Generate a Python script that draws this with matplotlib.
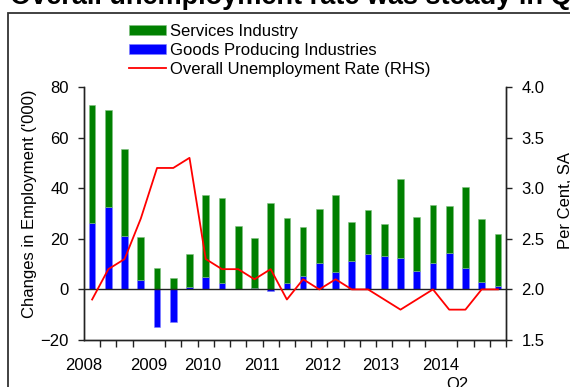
import numpy as np
import matplotlib.pyplot as plt
from matplotlib.patches import Rectangle

plt.rcParams['font.family'] = ['Liberation Sans', 'DejaVu Sans']

# Data: 2008Q1 .. 2014Q2
services_total = [73.0, 71.0, 55.5, 20.9, 8.3, 4.6, 13.8, 37.2, 36.3, 24.9, 20.3, 34.2, 28.2,
                  24.6, 31.7, 37.4, 26.8, 31.4, 25.9, 43.7, 28.7, 33.3, 32.8, 40.3, 28.0, 21.7]
goods = [26.4, 32.6, 21.2, 3.6, -15.0, -12.9, 0.9, 4.9, 2.6, 0.2, 0.5, -0.8, 2.7,
         5.3, 10.5, 7.0, 11.1, 14.1, 13.2, 12.5, 7.4, 10.5, 14.2, 8.4, 3.0, 1.4]
unemployment = [1.9, 2.2, 2.3, 2.7, 3.2, 3.2, 3.3, 2.3, 2.2, 2.2, 2.1, 2.2, 1.9,
                2.1, 2.0, 2.1, 2.0, 2.0, 1.9, 1.8, 1.9, 2.0, 1.8, 1.8, 2.0, 2.0]
years = ['2008', '2009', '2010', '2011', '2012', '2013', '2014']

# where the year labels sit along the category axis (as in the source chart)
year_label_pos = [-0.5, 3.5, 6.83, 10.47, 14.23, 17.8, 21.5]

x = np.arange(len(goods))
goods = np.array(goods)
# green segment sits on top of positive goods values
green_bottom = np.clip(goods, 0, None)
green_height = np.array(services_total) - green_bottom

fig = plt.figure(figsize=(5.7, 3.87), dpi=100)
ax = fig.add_axes([84 / 570, 1 - 340 / 387, 422 / 570, 253 / 387])

w = 0.41
ax.bar(x, goods, width=w, color='#0000FF', edgecolor='#8080ff', linewidth=0.4,
       label='Goods Producing Industries', zorder=2)
ax.bar(x, green_height, bottom=green_bottom, width=w, color='#008000', edgecolor='#80c080',
       linewidth=0.4, label='Services Industry', zorder=2)
ax.axhline(0, color='#222222', lw=1.0, zorder=3)

ax.set_xlim(-0.5, len(x) - 0.5)
ax.set_ylim(-20, 80)
ax.set_yticks(range(-20, 81, 20))

ax2 = ax.twinx()
ax2.plot(x, unemployment, color='#FF0000', lw=1.3, label='Overall Unemployment Rate (RHS)', zorder=4)
ax2.set_ylim(1.5, 4.0)
ax2.set_yticks(np.arange(1.5, 4.01, 0.5))
ax2.set_yticklabels([f'{v:.1f}' for v in np.arange(1.5, 4.01, 0.5)])

fs = 12
for a in (ax, ax2):
    a.spines['top'].set_visible(False)
    for s in ('left', 'right', 'bottom'):
        a.spines[s].set_color('#222222')
        a.spines[s].set_linewidth(1.0)
    a.tick_params(axis='y', labelsize=fs, length=4, width=1, color='#222222', pad=7)

# x axis: tick marks at quarter boundaries, year labels below
ax.set_xticks(np.arange(-0.5, len(x), 1.0), minor=True)
ax.set_xticks(year_label_pos)
ax.set_xticklabels(years)
ax.tick_params(axis='x', which='major', length=0, labelsize=fs, pad=13)
ax.tick_params(axis='x', which='minor', length=5, width=1, color='#222222')
ax.text(22.5, -0.145, 'Q2', transform=ax.get_xaxis_transform(), ha='center', va='top', fontsize=fs)

ax.set_ylabel("Changes in Employment ('000)", fontsize=fs)
ax.yaxis.set_label_coords(-0.111, 0.54)
ax2.set_ylabel('Per Cent, SA', fontsize=fs)
ax2.yaxis.set_label_coords(1.123, 0.55)

# legend
h1, l1 = ax.get_legend_handles_labels()
h2, l2 = ax2.get_legend_handles_labels()
handles = [h1[1], h1[0], h2[0]]
labels = [l1[1], l1[0], l2[0]]
fig.legend(handles, labels, loc='upper left', bbox_to_anchor=(129 / 570, 1 - 24 / 387),
           frameon=False, fontsize=fs, handlelength=2.2, handleheight=0.5,
           handletextpad=0.25, labelspacing=0.23, borderpad=0, borderaxespad=0)

# frame and clipped title
fig.patches.append(Rectangle((8 / 570, -0.1), 1.2, 1.1 - 13 / 387, transform=fig.transFigure,
                             fill=False, edgecolor='#333333', lw=1.3))
fig.text(10 / 570, 1 - 4 / 387, 'Overall unemployment rate was steady in Q2', fontsize=19.5,
         fontweight='bold', ha='left', va='baseline')

fig.savefig('out.png', dpi=100)
